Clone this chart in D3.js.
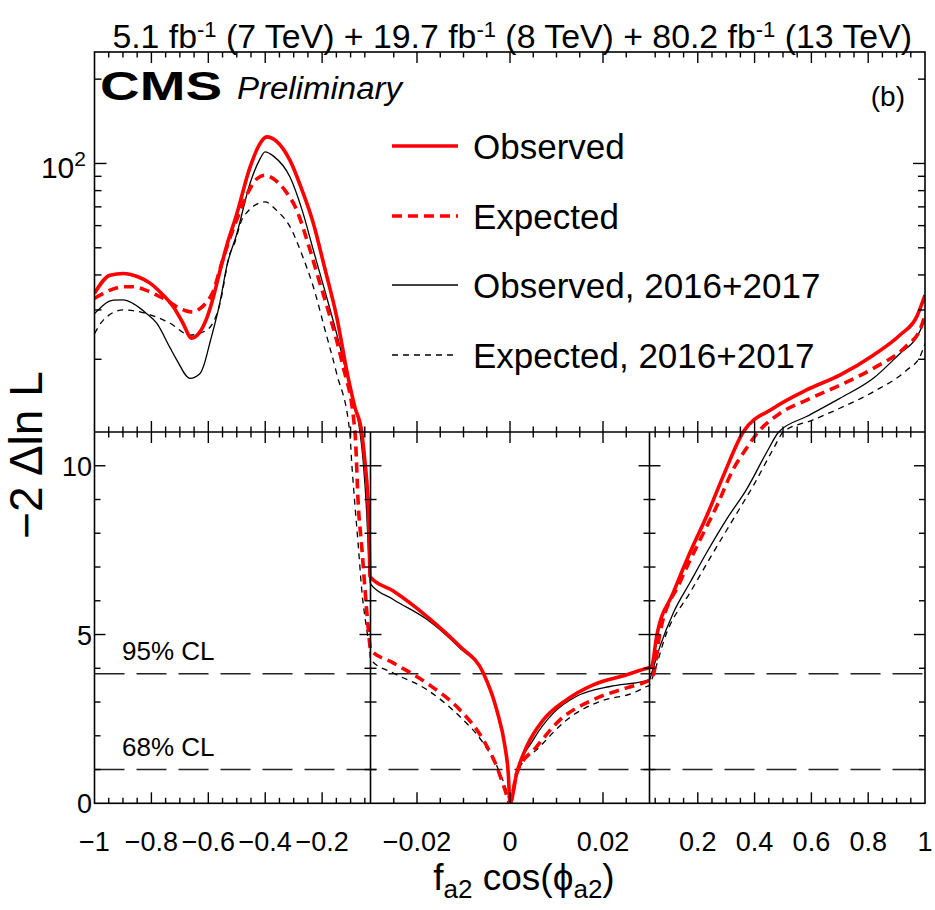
<!DOCTYPE html>
<html><head><meta charset="utf-8">
<script src="https://cdn.jsdelivr.net/npm/d3@7"></script>
<style>body{margin:0;background:#fff} text{font-family:"Liberation Sans",Arial,Helvetica,sans-serif;fill:#000}</style>
</head><body><svg id="c" width="935" height="910"></svg>
<script>
// ---------------- data ----------------
const xObs = [-1,-0.9455,-0.899,-0.85,-0.805,-0.76,-0.723,-0.69,-0.6584,-0.63,-0.6057,-0.58,-0.56,-0.535,-0.5,-0.4533,-0.42,-0.395,-0.36,-0.313,-0.27,-0.231,-0.19,-0.149,-0.11,-0.085,-0.061,-0.0493,-0.0398,-0.0353,-0.0317,-0.03,-0.0251,-0.0179,-0.0108,-0.00574,-0.00286,-0.00108,-0.00037,0,0.00144,0.00359,0.00716,0.0122,0.0179,0.0251,0.0297,0.03,0.0377,0.0553,0.1138,0.1726,0.2314,0.2898,0.36,0.466,0.583,0.7,0.818,0.912,0.971,1];
const yObs = [34.4,39.9,40.5,39.5,37.4,34,30.8,27,23.8,25,28,34,41,51,66,97,117,124.4,120,102.6,80,61.2,42,28.4,17.5,13.5,11,10.1,9.11,8.12,6.73,6.7,6.29,5.54,4.65,3.86,2.77,1.68,0.89,0,0.89,1.68,2.47,3.07,3.51,3.81,4.01,4.02,4.06,4.95,6.24,7.43,8.51,9.70,11,13.37,15.54,17.56,20.69,24.4,28.4,33.9];

const xExp = [-1,-0.9455,-0.899,-0.864,-0.82,-0.7814,-0.74,-0.711,-0.68,-0.653,-0.63,-0.6057,-0.5825,-0.559,-0.53,-0.5,-0.46,-0.43,-0.4006,-0.37,-0.33,-0.2894,-0.25,-0.21,-0.1724,-0.13,-0.0845,-0.0728,-0.061,-0.0493,-0.0377,-0.0317,-0.03,-0.0251,-0.0179,-0.0108,-0.00574,-0.00286,-0.00108,0,0.00144,0.00574,0.01075,0.01791,0.0251,0.0294,0.03,0.0434,0.067,0.1374,0.2077,0.2666,0.325,0.37,0.4128,0.4895,0.583,0.7,0.818,0.936,0.982,1];
const yExp = [33.0,35.3,36.3,36.3,35.3,33.9,32.2,30.8,29.8,29.5,30.3,32.0,35,42,52,63,79,88,90.8,88,80,68.2,52,38,28.4,19.5,11,8.81,7.62,6.34,5.15,4.65,4.55,4.16,3.56,2.77,1.88,1.09,0.4,0,0.89,1.68,2.47,3.07,3.42,3.61,3.65,3.81,5.05,6.55,7.8,8.8,9.9,10.5,11,12.83,14.3,16.16,18.56,22.4,25.45,28.77];

const xObs1617 = [-1,-0.934,-0.899,-0.864,-0.8165,-0.7814,-0.7347,-0.711,-0.6644,-0.629,-0.6176,-0.594,-0.559,-0.535,-0.5,-0.4533,-0.42,-0.4006,-0.37,-0.313,-0.27,-0.231,-0.19,-0.149,-0.1,-0.067,-0.0553,-0.0434,-0.0353,-0.0307,-0.03,-0.0251,-0.0179,-0.0108,-0.00574,-0.00286,-0.00108,-0.00015,0,0.00144,0.005,0.00931,0.01434,0.0215,0.02867,0.03,0.0377,0.067,0.1138,0.1726,0.2314,0.3018,0.3723,0.4427,0.485,0.583,0.7,0.818,0.912,0.971,1];
const yObs1617 = [29.1,32.5,32.6,31.6,29.1,26.9,22,19.9,17.1,17.8,18.8,23,32,43,56,85,103,110,106,89.5,68,49.1,35,24.7,15.5,11,10.1,8.62,7.13,6.54,6.5,6.04,5.45,4.60,3.86,2.77,1.68,0.3,0,0.89,1.88,2.67,3.17,3.46,3.61,3.66,3.86,4.65,5.64,6.54,7.43,8.42,9.31,10.4,11,12.49,14.5,17.1,20.98,24.0,27.6];

const xExp1617 = [-1,-0.969,-0.899,-0.8165,-0.7347,-0.6644,-0.6057,-0.559,-0.5238,-0.5122,-0.477,-0.4006,-0.36,-0.313,-0.27,-0.231,-0.19,-0.149,-0.103,-0.0961,-0.0845,-0.0728,-0.061,-0.0434,-0.0317,-0.03,-0.0251,-0.0179,-0.0108,-0.00574,-0.00215,-0.00037,0,0.00144,0.00645,0.01219,0.01935,0.02652,0.0294,0.03,0.0377,0.0905,0.1726,0.2546,0.325,0.3955,0.466,0.501,0.606,0.7,0.818,0.936,0.982,1];
const yExp1617 = [24.7,27.6,30.0,29.1,26.9,24.4,25.4,31.6,47.8,50.5,64.5,72.9,68,59.5,47,36.3,25.5,17.8,11,10.1,8.81,7.62,6.34,5.15,4.45,4.26,3.86,3.37,2.57,1.78,0.89,0.2,0,0.89,1.68,2.47,3.02,3.27,3.46,3.5,3.66,5.05,6.24,7.43,8.42,9.41,10.5,11,12.15,13.37,15.3,18.3,20.4,22.8];

const legendLabels = ["Observed","Expected","Observed, 2016+2017","Expected, 2016+2017"];
const clValues = [3.84, 1.0];
const clLabels = ["95% CL","68% CL"];

const xSections = [[-1,-0.03],[-0.03,0.03],[0.03,1]];
const xMajorTicks = [[-1,-0.8,-0.6,-0.4,-0.2],[-0.02,0,0.02],[0.2,0.4,0.6,0.8,1]];
const xMajorLabels = [["\u22121","\u22120.8","\u22120.6","\u22120.4","\u22120.2"],["\u22120.02","0","0.02"],["0.2","0.4","0.6","0.8","1"]];
const xMinorSteps = [0.05,0.005,0.05];
const yLinTicks = [0,5,10];
const yLinLabels = ["0","5","10"];
const yLogMinor = [20,30,40,50,60,70,80,90,200];
const yLogMajor = [100];

// ---------------- layout ----------------
const L=94.5, R=925, T=52, B=803.3, BRK=432, D1=370.5, D2=649.5;
const svg = d3.select("#c");
const x = d3.scaleLinear().domain([-1,-0.03,0.03,1]).range([L,D1,D2,R]);
const yLin = d3.scaleLinear().domain([0,11]).range([B,BRK]);
const yLog = d3.scaleLog().domain([11,250]).range([BRK,T]);
const y = v => v <= 11 ? yLin(v) : yLog(v);

svg.append("defs").append("clipPath").attr("id","clip")
  .append("rect").attr("x",L).attr("y",T).attr("width",R-L).attr("height",B-T);

// CL lines
clValues.forEach((v,i)=>{
  svg.append("line").attr("x1",L).attr("x2",R).attr("y1",y(v)).attr("y2",y(v))
    .attr("stroke","#222").attr("stroke-width",1.6).attr("stroke-dasharray","30,12");
  svg.append("text").attr("x",122).attr("y",y(v)-14).attr("font-size",26).attr("fill","#222").text(clLabels[i]);
});

// curves
const line = d3.line().x(d=>x(d[0])).y(d=>y(d[1])).curve(d3.curveMonotoneX);
const series = [
  {xs:xExp1617, ys:yExp1617, color:"#000", w:1.3, dash:"6,5"},
  {xs:xObs1617, ys:yObs1617, color:"#000", w:1.3, dash:null},
  {xs:xExp, ys:yExp, color:"#ff0000", w:3.6, dash:"10,6"},
  {xs:xObs, ys:yObs, color:"#ff0000", w:3.6, dash:null}
];
const curveG = svg.append("g").attr("clip-path","url(#clip)");
series.forEach(s=>{
  curveG.append("path").datum(d3.zip(s.xs,s.ys)).attr("d",line)
    .attr("fill","none").attr("stroke",s.color).attr("stroke-width",s.w)
    .attr("stroke-dasharray",s.dash).attr("stroke-linejoin","round");
});

// frame
const fr = svg.append("g").attr("stroke","#000").attr("stroke-width",1.6).attr("fill","none");
fr.append("rect").attr("x",L).attr("y",T).attr("width",R-L).attr("height",B-T);
fr.append("line").attr("x1",L).attr("x2",R).attr("y1",BRK).attr("y2",BRK);
[D1,D2].forEach(d=>fr.append("line").attr("x1",d).attr("x2",d).attr("y1",BRK).attr("y2",B));

// x ticks
const tk = svg.append("g").attr("stroke","#000").attr("stroke-width",1.4);
function xTick(v, y0, dir, len){ tk.append("line").attr("x1",x(v)).attr("x2",x(v)).attr("y1",y0).attr("y2",y0+dir*len); }
xSections.forEach((sec,i)=>{
  const st = xMinorSteps[i];
  const k0 = Math.ceil(sec[0]/st - 1e-6), k1 = Math.floor(sec[1]/st + 1e-6);
  for(let k=k0;k<=k1;k++){
    const v = +(k*st).toFixed(6);
    if (v<=sec[0]+1e-9 || v>=sec[1]-1e-9) continue;
    const major = xMajorTicks[i].some(m=>Math.abs(m-v)<1e-9);
    const len = major?11:5.5;
    [[T,1],[BRK,-1],[BRK,1],[B,-1]].forEach(([y0,dir])=>xTick(v,y0,dir,len));
  }
});
// y ticks
function yTick(px, v, dir, len){ tk.append("line").attr("x1",px).attr("x2",px+dir*len).attr("y1",y(v)).attr("y2",y(v)); }
for(let v=1; v<=10; v++){
  const len = (v%5===0)?11:6;
  [[L,1],[D1,-1],[D1,1],[D2,-1],[D2,1],[R,-1]].forEach(([px,dir])=>yTick(px,v,dir,len));
}
yLogMinor.forEach(v=>[[L,1],[R,-1]].forEach(([px,dir])=>yTick(px,v,dir,7)));
yLogMajor.forEach(v=>[[L,1],[R,-1]].forEach(([px,dir])=>yTick(px,v,dir,12)));

// tick labels
const lab = svg.append("g").attr("font-size",27);
xSections.forEach((sec,i)=>{
  xMajorTicks[i].forEach((v,j)=>{
    lab.append("text").attr("x",x(v)).attr("y",851).attr("text-anchor","middle").text(xMajorLabels[i][j]);
  });
});
yLinTicks.forEach((v,i)=>{
  lab.append("text").attr("x",92).attr("y",y(v)+10).attr("text-anchor","end").text(yLinLabels[i]);
});
const t100 = svg.append("text").attr("x",86).attr("y",y(100)+15).attr("text-anchor","end").attr("font-size",30);
t100.append("tspan").text("10");
t100.append("tspan").attr("font-size",21).attr("dy",-12).text("2");

// axis titles
svg.append("text").attr("transform","translate(42,455) rotate(-90)").attr("text-anchor","middle")
  .attr("font-size",46).text("\u22122 \u0394ln L");
const xt = svg.append("text").attr("x",524).attr("y",890).attr("text-anchor","middle").attr("font-size",37);
xt.append("tspan").text("f");
xt.append("tspan").attr("font-size",26).attr("dy",8).text("a2");
xt.append("tspan").attr("dy",-8).text(" cos(\u03d5");
xt.append("tspan").attr("font-size",26).attr("dy",8).text("a2");
xt.append("tspan").attr("dy",-8).text(")");

// title
const tt = svg.append("text").attr("x",912).attr("y",37).attr("text-anchor","end").attr("font-size",27);
[["5.1 fb",0],["-1",1],[" (7 TeV) + 19.7 fb",0],["-1",1],[" (8 TeV) + 80.2 fb",0],["-1",1],[" (13 TeV)",0]].forEach(([s,sup])=>{
  if(sup) tt.append("tspan").attr("font-size","0.65em").attr("dy",-11).text(s);
  else tt.append("tspan").attr("dy", tt.selectAll("tspan").size()?11:0).text(s);
});
const tw = tt.node().getBBox().width;
tt.attr("font-size", 27*800/tw);

// CMS label
svg.append("text").attr("x",100).attr("y",100).attr("font-size",40).attr("font-weight","bold")
  .attr("textLength",122).attr("lengthAdjust","spacingAndGlyphs").text("CMS");
svg.append("text").attr("x",237).attr("y",99).attr("font-size",31).attr("font-style","italic")
  .attr("textLength",165).attr("lengthAdjust","spacingAndGlyphs").text("Preliminary");
svg.append("text").attr("x",905).attr("y",106).attr("text-anchor","end").attr("font-size",28).text("(b)");

// legend
const legY = [146,216,285,355];
series.slice().reverse().forEach((s,i)=>{
  svg.append("line").attr("x1",392).attr("x2",458).attr("y1",legY[i]).attr("y2",legY[i])
    .attr("stroke",s.color).attr("stroke-width",s.w).attr("stroke-dasharray",s.dash);
  svg.append("text").attr("x",473).attr("y",legY[i]+13).attr("font-size",35).text(legendLabels[i]);
});
</script></body></html>
